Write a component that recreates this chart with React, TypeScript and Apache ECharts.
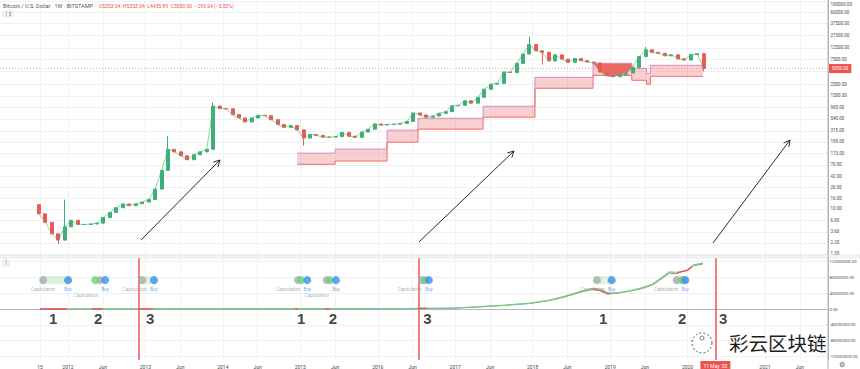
import React, { useEffect, useRef } from "react";
import * as echarts from "echarts";

// ---------- Price: monthly closes (BTC/USD, Aug 2011 .. Mar 2020) ----------
const monthlyCloses: number[] = [
  // 2011 Aug-Dec
  8, 5.5, 3.3, 2.5, 4.5,
  // 2012
  6.0, 5.0, 5.0, 5.1, 5.3, 6.8, 8.5, 10.5, 12.4, 11.5, 12.5, 13.5,
  // 2013
  15, 24, 55, 140, 125, 105, 88, 110, 125, 140, 950, 850,
  // 2014
  840, 650, 560, 470, 560, 630, 620, 520, 420, 370, 400, 330,
  // 2015
  230, 270, 260, 240, 240, 245, 295, 250, 238, 300, 340, 430,
  // 2016
  410, 420, 425, 440, 480, 700, 640, 580, 610, 690, 740, 960,
  // 2017
  980, 1200, 1080, 1400, 2000, 2500, 2600, 4300, 4200, 6300, 9500, 14500,
  // 2018
  11000, 10300, 7000, 9200, 7600, 6600, 7800, 7100, 6700, 6400, 4300, 3700,
  // 2019
  3500, 3800, 4100, 5300, 8500, 11500, 10300, 9800, 8800, 9200, 7700, 7300,
  // 2020 Jan-Mar
  9300, 9700, 5050,
];
const firstOpen = 12;
const wickHighs: [number, number][] = [[4, 15], [20, 250], [27, 1120], [76, 20500], [94, 13000]];
const wickLows: [number, number][] = [[3, 2.1], [41, 165], [78, 6000], [103, 4435]];

// ---------- Right price scale ----------
const priceTicks = [1.35, 2.2, 3.6, 6, 10, 16, 26, 42, 70, 115, 195, 315, 540, 900, 1500, 2500, 4500, 7500, 12500, 21500, 37500, 60000, 100000];
const priceTickLabels = ["1.35", "2.20", "3.60", "6.00", "10.00", "16.00", "26.00", "42.00", "70.00", "115.00", "195.00", "315.00", "540.00", "900.00", "1500.00", "2500.00", "", "7500.00", "12500.00", "21500.00", "37500.00", "60000.00", "100000.00"];
const lastPrice = 5050;
const lastPriceLabel = "5050.00";
const bandPrice = 3935;
const bandPriceLabel = "4679.95";

// ---------- Capitulation band (step) ----------
const bandStarts = [2014.96, 2015.45, 2016.12, 2016.52, 2017.36, 2018.03, 2018.78, 2019.28, 2019.47, 2019.52, 2020.2];
const bandTop = [118, 141, 326, 554, 942, 3400, 6310, 5065, 4000, 5780, 5780];
const bandBottom = [72, 83, 192, 341, 580, 2090, 3715, 2980, 2500, 3555, 3555];
const capDates = [2018.78, 2018.86, 2018.95, 2019.04, 2019.13, 2019.21, 2019.28];
const capLows = [6310, 4700, 3600, 3500, 3760, 4100, 5300];
const capCeiling = 6310;

// ---------- Lower pane indicator ----------
const hashDates = [2011.64, 2012.5, 2013.5, 2014.5, 2015.5, 2016.0, 2016.5, 2017.0, 2017.32, 2017.65, 2017.97, 2018.2, 2018.35, 2018.5, 2018.61, 2018.78, 2018.88, 2018.97, 2019.1, 2019.25, 2019.42, 2019.55, 2019.64, 2019.77, 2019.84, 2019.9, 2020.0, 2020.07, 2020.2];
const hashFast = [0, 0.05, 0.1, 0.3, 0.5, 0.8, 1.5, 2.5, 5.8, 10, 15, 22, 28.6, 37, 43.8, 52, 50, 41, 41, 46, 54, 63, 76, 94, 93, 94, 99, 111, 116];
const hashSlow = [0, 0.05, 0.1, 0.3, 0.5, 0.8, 1.4, 2.3, 5.3, 9.3, 14, 21, 27, 35.5, 42, 50.5, 46, 38, 40, 45, 52, 61, 73, 91, 89, 93, 98, 109, 114];
const redRanges: [number, number][] = [[2011.64, 2011.99], [2012.31, 2012.45], [2012.93, 2013.1], [2014.93, 2014.97], [2015.32, 2015.38], [2016.55, 2016.64], [2018.78, 2019.0], [2019.86, 2020.06]];
const hashTicks = [-120e6, -80e6, -40e6, 0, 40e6, 80e6, 120e6];

const capGreyDates = [2011.68, 2012.41, 2012.96, 2014.97, 2015.34, 2016.57, 2018.83, 2019.86];
const capGreenDates = [2012.35, 2015.01, 2015.38, 2016.61, 2019.93];
const buyDates = [2012.0, 2012.48, 2013.11, 2015.09, 2015.46, 2016.66, 2019.02, 2019.97];
const barGroups: [number, number][] = [[2011.68, 2012.0], [2012.96, 2013.11], [2018.83, 2019.02], [2019.86, 2019.97]];
const markerLevel = 73e6;

const stepNumbers = ["1", "2", "3", "1", "2", "3", "1", "2", "3"];
const stepNumberDates = [2011.81, 2012.39, 2013.06, 2015.01, 2015.42, 2016.64, 2018.91, 2019.93, 2020.46];
const stepNumberLevel = -23e6;

const halvingDates = [2012.92, 2016.53, 2020.36];
const halvingLabel = "11 May '20";

// ---------- Time scale ----------
const timeTickValues = [2011.64, 2012, 2012.45, 2013, 2013.45, 2014, 2014.45, 2015, 2015.45, 2016, 2016.45, 2017, 2017.45, 2018, 2018.45, 2019, 2019.45, 2020, 2021, 2021.45];
const timeTickLabels = ["15", "2012", "Jun", "2013", "Jun", "2014", "Jun", "2015", "Jun", "2016", "Jun", "2017", "Jun", "2018", "Jun", "2019", "Jun", "2020", "2021", "Jun"];
const timeMin = 2011.122;
const timeMax = 2021.814;

const lg = Math.log10;
const toT = (i: number) => 2011 + (7 + i + 0.5) / 12;

function lookupIndex(vals: number[], v: number) {
  let best = -1;
  let bd = Infinity;
  vals.forEach((x, i) => {
    const d = Math.abs(x - v);
    if (d < bd) {
      bd = d;
      best = i;
    }
  });
  return bd < 1e-4 ? best : -1;
}

function arrowEls(x1: number, y1: number, x2: number, y2: number) {
  const ang = Math.atan2(y2 - y1, x2 - x1);
  const L = 7;
  const a = Math.PI / 6.5;
  const p1 = [x2 - L * Math.cos(ang - a), y2 - L * Math.sin(ang - a)];
  const p2 = [x2 - L * Math.cos(ang + a), y2 - L * Math.sin(ang + a)];
  return [
    { type: "line", shape: { x1, y1, x2, y2 }, style: { stroke: "#2b2b2b", lineWidth: 1 }, z: 20 },
    { type: "polyline", shape: { points: [p1, [x2, y2], p2] }, style: { stroke: "#2b2b2b", lineWidth: 1, fill: null }, z: 20 },
  ];
}

export default function App() {
  const ref = useRef<HTMLDivElement>(null);

  useEffect(() => {
    if (!ref.current) return;
    const chart = echarts.init(ref.current, undefined, { renderer: "svg" });

    const candleData = monthlyCloses.map((c, i) => {
      const o = i === 0 ? firstOpen : monthlyCloses[i - 1];
      let h = Math.max(o, c);
      let l = Math.min(o, c);
      wickHighs.forEach(([k, v]) => { if (k === i) h = Math.max(h, v); });
      wickLows.forEach(([k, v]) => { if (k === i) l = Math.min(l, v); });
      return [toT(i), lg(o), lg(c), lg(l), lg(h)];
    });
    const closeLine = monthlyCloses.map((c, i) => [toT(i), lg(c)]);

    const priceLog = priceTicks.map((p) => lg(p));
    const labelLog = priceTicks.filter((_, i) => priceTickLabels[i] !== "").map((p) => lg(p));
    const topTickIndex = priceTicks.length - 1;

    const bandSegs = bandStarts.slice(0, -1).map((t, i) => [t, bandStarts[i + 1], lg(bandTop[i]), lg(bandBottom[i])]);
    const capSegs = capDates.slice(0, -1).map((t, i) => [t, capDates[i + 1], lg(capLows[i]), lg(capLows[i + 1]), lg(capCeiling)]);

    const pxPerYear = 828 / (timeMax - timeMin);
    const toPx = (t: number) => (t - timeMin) * pxPerYear;

    const font = "Roboto, 'Liberation Sans', sans-serif";
    const gridColor = "#eef1f6";
    const axisText = { fontSize: 4.5, color: "#4a4a4a", fontFamily: font };

    const scatterBase = {
      type: "scatter",
      xAxisIndex: 1,
      yAxisIndex: 1,
      symbol: "circle",
      symbolSize: 8,
      silent: true,
    };

    const barSeries = barGroups.map(([a, b]) => ({
      type: "line",
      xAxisIndex: 1,
      yAxisIndex: 1,
      data: [[a, markerLevel], [b, markerLevel]],
      symbol: "none",
      silent: true,
      lineStyle: { color: "rgba(120,205,135,0.25)", width: 8, cap: "round" },
      z: 3,
    }));

    // keep each "Capitulation" label clear of the neighbouring "Buy" labels
    const capLabelW = 26;
    const greyData = capGreyDates.map((t) => {
      const next = buyDates.find((b) => b > t) ?? t + 1;
      const prevs = buyDates.filter((b) => b < t);
      const prev = prevs.length ? prevs[prevs.length - 1] : null;
      const gapPx = (next - t) * pxPerYear;
      const right = Math.min(12, gapPx - 7);
      const leftEdge = toPx(t) + right - capLabelW;
      const clash = prev !== null && leftEdge < toPx(prev) + 5;
      return {
        value: [t, markerLevel],
        label: { align: "right", offset: [right, clash ? 5.5 : 0] },
      };
    });

    const option: any = {
      animation: false,
      backgroundColor: "#ffffff",
      grid: [
        { left: 0, right: 32, top: 0, height: 256, outerBoundsMode: "none", containLabel: false },
        { left: 0, right: 32, top: 258, height: 102, outerBoundsMode: "none", containLabel: false },
      ],
      xAxis: [
        {
          type: "value",
          gridIndex: 0,
          min: timeMin,
          max: timeMax,
          axisLine: { show: false },
          axisTick: { show: false, customValues: timeTickValues },
          axisLabel: { show: false },
          splitLine: { show: true, lineStyle: { color: gridColor, width: 1 } },
        },
        {
          type: "value",
          gridIndex: 1,
          min: timeMin,
          max: timeMax,
          axisLine: { show: true, lineStyle: { color: "#b2b5be", width: 1 } },
          axisTick: { show: false, customValues: timeTickValues },
          axisLabel: {
            ...axisText,
            fontSize: 5,
            customValues: timeTickValues,
            margin: 4,
            formatter: (v: number) => {
              const k = lookupIndex(timeTickValues, v);
              return k < 0 ? "" : timeTickLabels[k];
            },
          },
          splitLine: { show: true, lineStyle: { color: gridColor, width: 1 } },
        },
      ],
      yAxis: [
        {
          type: "value",
          gridIndex: 0,
          position: "right",
          min: 0.0918,
          max: 5.0193,
          axisLine: { show: true, lineStyle: { color: "#b2b5be", width: 1 } },
          axisTick: { show: false, customValues: priceLog },
          axisLabel: {
            ...axisText,
            customValues: labelLog,
            margin: 2.5,
            formatter: (v: number) => {
              const k = lookupIndex(priceLog, v);
              if (k < 0) return "";
              return k === topTickIndex ? "{t|" + priceTickLabels[k] + "}" : priceTickLabels[k];
            },
            rich: { t: { padding: [7, 0, 0, 0], fontSize: 4.5, color: "#4a4a4a", fontFamily: font } },
          },
          splitLine: { show: true, lineStyle: { color: gridColor, width: 1 } },
        },
        {
          type: "value",
          gridIndex: 1,
          position: "right",
          min: -129e6,
          max: 129e6,
          axisLine: { show: true, lineStyle: { color: "#b2b5be", width: 1 } },
          axisTick: { show: false, customValues: hashTicks },
          axisLabel: {
            ...axisText,
            fontSize: 4.2,
            customValues: hashTicks,
            margin: 1.5,
            formatter: (v: number) => v.toFixed(2),
          },
          splitLine: { show: true, lineStyle: { color: gridColor, width: 1 } },
        },
      ],
      visualMap: [
        {
          type: "piecewise",
          show: false,
          dimension: 0,
          seriesIndex: 8,
          pieces: redRanges.map(([a, b]) => ({ gte: a, lte: b, color: "#ef5350" })),
          outOfRange: { color: "rgba(255,255,255,0)" },
        },
      ],
      series: [
        // 0 band fill rectangles
        {
          type: "custom",
          xAxisIndex: 0,
          yAxisIndex: 0,
          silent: true,
          data: bandSegs,
          encode: { x: [0, 1], y: [2, 3] },
          renderItem: (_p: any, api: any) => {
            const a = api.coord([api.value(0), api.value(2)]);
            const b = api.coord([api.value(1), api.value(3)]);
            return {
              type: "rect",
              shape: { x: a[0], y: a[1], width: b[0] - a[0], height: b[1] - a[1] },
              style: { fill: "rgba(240,110,110,0.33)" },
            };
          },
          z: 1,
        },
        // 1 band top line
        {
          type: "line",
          xAxisIndex: 0,
          yAxisIndex: 0,
          step: "end",
          symbol: "none",
          silent: true,
          data: bandStarts.map((t, i) => [t, lg(bandTop[i])]),
          lineStyle: { color: "#d48fbd", width: 1 },
          z: 2,
        },
        // 2 band bottom line
        {
          type: "line",
          xAxisIndex: 0,
          yAxisIndex: 0,
          step: "end",
          symbol: "none",
          silent: true,
          data: bandStarts.map((t, i) => [t, lg(bandBottom[i])]),
          lineStyle: { color: "#f06b6b", width: 1 },
          z: 2,
        },
        // 3 capitulation dark fill
        {
          type: "custom",
          xAxisIndex: 0,
          yAxisIndex: 0,
          silent: true,
          data: capSegs,
          encode: { x: [0, 1], y: [2, 3, 4] },
          renderItem: (_p: any, api: any) => {
            const c0 = api.coord([api.value(0), api.value(4)]);
            const c1 = api.coord([api.value(1), api.value(4)]);
            const l1 = api.coord([api.value(1), api.value(3)]);
            const l0 = api.coord([api.value(0), api.value(2)]);
            return {
              type: "polygon",
              shape: { points: [c0, c1, l1, l0] },
              style: { fill: "#e8625c", stroke: "#e8625c", lineWidth: 0.5, opacity: 0.92 },
            };
          },
          z: 2,
        },
        // 4 candles
        {
          type: "candlestick",
          xAxisIndex: 0,
          yAxisIndex: 0,
          data: candleData,
          encode: { x: 0, y: [1, 2, 3, 4] },
          barWidth: 3.5,
          silent: true,
          itemStyle: {
            color: "#3fae7a",
            color0: "#ea5a52",
            borderColor: "#3fae7a",
            borderColor0: "#ea5a52",
            borderWidth: 1,
          },
          markLine: {
            silent: true,
            symbol: "none",
            animation: false,
            lineStyle: { color: "rgba(239,83,80,0.55)", type: [1, 2], width: 1 },
            data: [
              {
                yAxis: lg(lastPrice),
                label: {
                  show: true,
                  position: "end",
                  formatter: lastPriceLabel,
                  backgroundColor: "#ef5350",
                  color: "#fff",
                  fontSize: 4.5,
                  fontFamily: font,
                  padding: [2, 3],
                  distance: 1,
                },
              },
              {
                yAxis: lg(bandPrice),
                lineStyle: { opacity: 0 },
                label: {
                  show: true,
                  position: "end",
                  formatter: bandPriceLabel,
                  backgroundColor: "#f07c78",
                  color: "#fff",
                  fontSize: 4.2,
                  fontFamily: font,
                  padding: [1.5, 2],
                  distance: 6,
                },
              },
            ],
          },
          z: 3,
        },
        // 5 thin close line
        {
          type: "line",
          xAxisIndex: 0,
          yAxisIndex: 0,
          data: closeLine,
          symbol: "none",
          silent: true,
          lineStyle: { color: "rgba(80,185,110,0.8)", width: 0.8 },
          z: 4,
        },
        // 6 slow grey
        {
          type: "line",
          xAxisIndex: 1,
          yAxisIndex: 1,
          data: hashDates.map((t, i) => [t, hashSlow[i] * 1e6]),
          symbol: "none",
          silent: true,
          lineStyle: { color: "#8d8d8d", width: 1 },
          z: 2,
        },
        // 7 fast green
        {
          type: "line",
          xAxisIndex: 1,
          yAxisIndex: 1,
          data: hashDates.map((t, i) => [t, hashFast[i] * 1e6]),
          symbol: "none",
          silent: true,
          lineStyle: { color: "#6fd083", width: 1.2 },
          z: 3,
          markLine: {
            silent: true,
            symbol: "none",
            animation: false,
            lineStyle: { color: "#ef5350", width: 1.5, type: "solid" },
            label: { show: false },
            data: halvingDates.map((d, i) =>
              i === halvingDates.length - 1
                ? {
                    xAxis: d,
                    label: {
                      show: true,
                      position: "start",
                      formatter: halvingLabel,
                      backgroundColor: "#ef5350",
                      color: "#fff",
                      fontSize: 5,
                      fontFamily: font,
                      padding: [2, 3],
                      distance: 1,
                    },
                  }
                : { xAxis: d }
            ),
          },
        },
        // 8 red overlay (visualMap)
        {
          type: "line",
          xAxisIndex: 1,
          yAxisIndex: 1,
          data: hashDates.map((t, i) => [t, hashSlow[i] * 1e6]),
          symbol: "none",
          silent: true,
          lineStyle: { width: 1.3 },
          z: 4,
        },
        // 9.. marker bars
        ...barSeries,
        {
          ...scatterBase,
          data: greyData,
          itemStyle: { color: "#a9aea9" },
          label: { show: true, position: "bottom", distance: 3, formatter: "Capitulation", fontSize: 4.5, color: "#9a9a9a", fontFamily: font },
          z: 5,
        },
        {
          ...scatterBase,
          data: capGreenDates.map((t) => [t, markerLevel]),
          itemStyle: { color: "#6ad27e" },
          z: 6,
        },
        {
          ...scatterBase,
          data: buyDates.map((t) => [t, markerLevel]),
          itemStyle: { color: "#3d8ee9" },
          label: { show: true, position: "bottom", distance: 3, formatter: "Buy", fontSize: 4.5, color: "#3d8ee9", fontFamily: font },
          z: 7,
        },
        {
          type: "scatter",
          xAxisIndex: 1,
          yAxisIndex: 1,
          data: stepNumberDates.map((t) => [t, stepNumberLevel]),
          symbol: "circle",
          symbolSize: 1,
          silent: true,
          itemStyle: { color: "rgba(0,0,0,0)" },
          label: {
            show: true,
            position: "inside",
            formatter: (p: any) => stepNumbers[p.dataIndex],
            fontSize: 15,
            fontWeight: "bold",
            color: "#111",
            fontFamily: "'Liberation Sans', Arial, sans-serif",
          },
          z: 8,
        },
      ],
      graphic: [
        { type: "rect", shape: { x: 0, y: 255, width: 860, height: 3 }, style: { fill: "#f4f5f8", stroke: "#dfe2ea", lineWidth: 0.6 }, z: 10 },
        { type: "line", shape: { x1: 828, y1: 0, x2: 828, y2: 369 }, style: { stroke: "#b2b5be", lineWidth: 1 }, z: 10 },
        {
          type: "text",
          x: 3,
          y: 3,
          style: { text: "Bitcoin / U.S. Dollar · 1W · BITSTAMP", fill: "#555", fontSize: 5.5, fontFamily: font },
          z: 10,
        },
        {
          type: "text",
          x: 99,
          y: 3,
          style: { text: "O5353.04  H5353.04  L4435.89  C5050.00  \u2212295.64 (\u22125.50%)", fill: "#ef5350", fontSize: 5, fontFamily: font },
          z: 10,
        },
        { type: "rect", shape: { x: 3, y: 11, width: 10, height: 6, r: 1 }, style: { fill: "#fff", stroke: "#c9ccd4", lineWidth: 0.6 }, z: 10 },
        { type: "text", x: 5, y: 11.5, style: { text: "1 5", fill: "#555", fontSize: 4.5, fontFamily: font }, z: 11 },
        { type: "rect", shape: { x: 3, y: 260, width: 6, height: 6, r: 1 }, style: { fill: "#fff", stroke: "#c9ccd4", lineWidth: 0.6 }, z: 10 },
        { type: "text", x: 4.8, y: 260.5, style: { text: "1", fill: "#555", fontSize: 4.5, fontFamily: font }, z: 11 },
        ...arrowEls(141, 240, 220, 160),
        ...arrowEls(419, 242, 514, 151),
        ...arrowEls(713, 243, 790, 140),
        { type: "circle", shape: { cx: 702, cy: 343, r: 10 }, style: { fill: "rgba(255,255,255,0.6)", stroke: "#555", lineWidth: 1, lineDash: [2, 2] }, z: 12 },
        { type: "circle", shape: { cx: 702, cy: 338, r: 2 }, style: { fill: "none", stroke: "#555", lineWidth: 0.8 }, z: 12 },
        {
          type: "text",
          x: 729,
          y: 333,
          style: {
            text: "彩云区块链",
            fill: "#1e1e1e",
            stroke: "#ffffff",
            lineWidth: 1.5,
            fontSize: 19.5,
            fontFamily: "'Noto Sans CJK SC', sans-serif",
          },
          z: 12,
        },
        { type: "text", x: 839, y: 361, style: { text: "⚙", fill: "#666", fontSize: 7, fontFamily: "'DejaVu Sans', sans-serif" }, z: 12 },
      ],
    };

    chart.setOption(option);
    return () => chart.dispose();
  }, []);

  return (
    <div
      ref={ref}
      style={{ position: "fixed", left: 0, top: 0, width: 860, height: 369, background: "#fff" }}
    />
  );
}
